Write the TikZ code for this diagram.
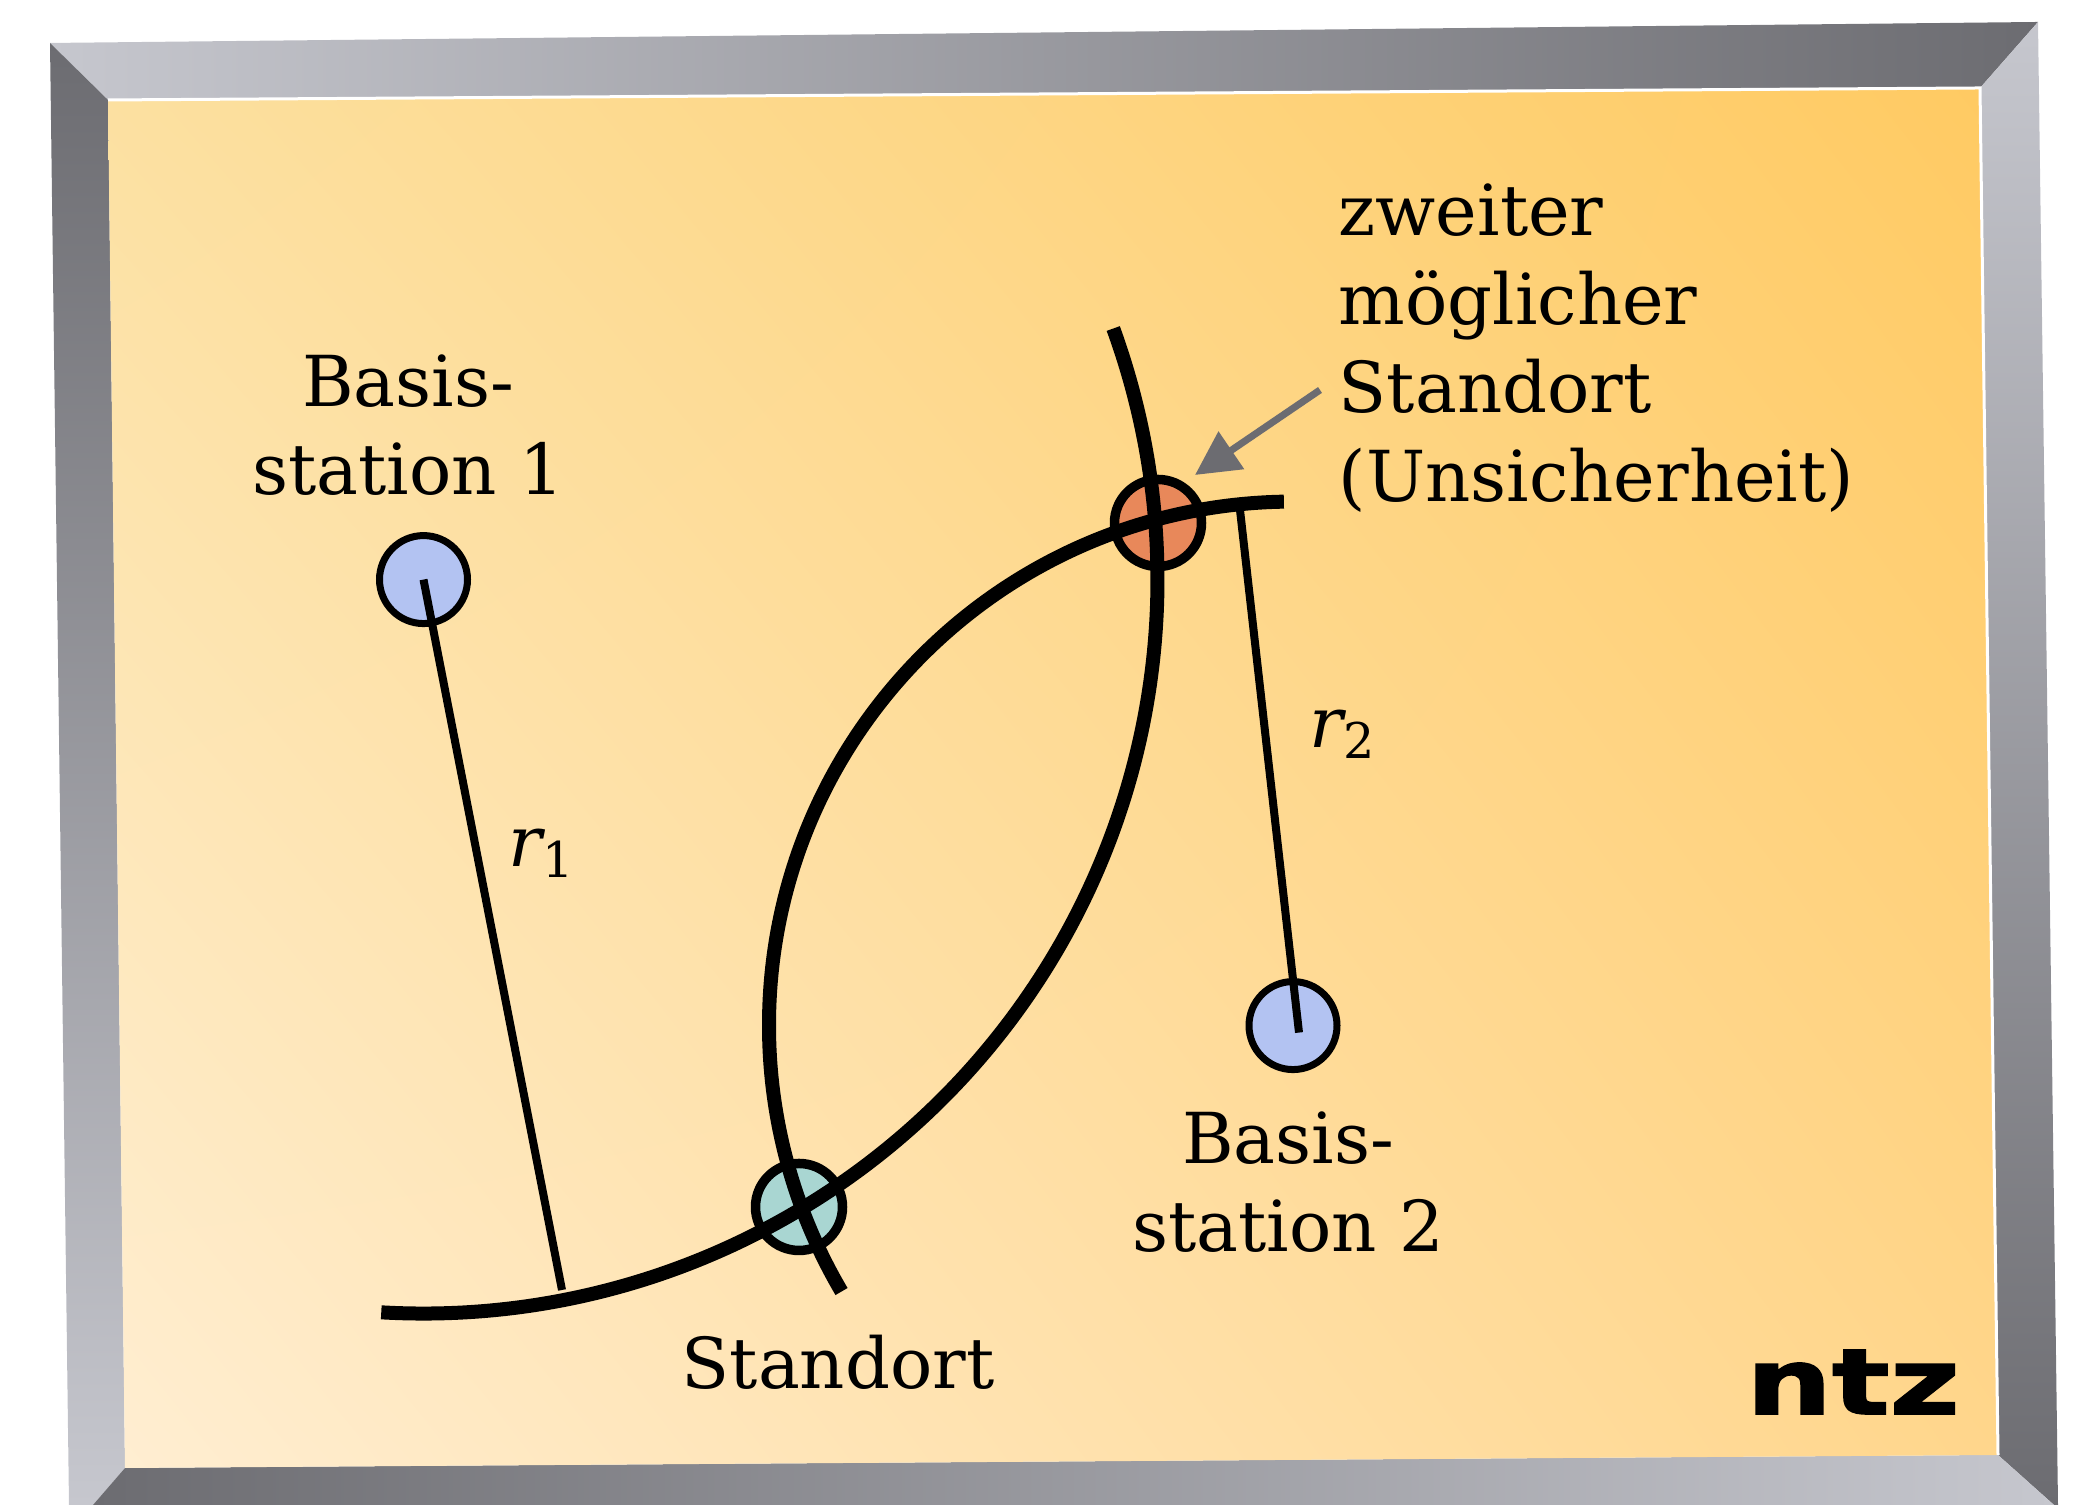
\documentclass[tikz,border=0pt]{standalone}
\usepackage{fontspec}
\setmainfont{DejaVu Serif}
\newfontfamily\logofont[BoldFeatures={FakeBold=1.6}]{DejaVu Sans}
\usetikzlibrary{arrows.meta, calc, shadings}
\definecolor{framelight}{HTML}{C6C7CE}
\definecolor{framedark}{HTML}{6C6C71}
\definecolor{panelnw}{HTML}{FCE0A0}
\definecolor{panelne}{HTML}{FFCA62}
\definecolor{panelsw}{HTML}{FFEED2}
\definecolor{panelse}{HTML}{FFD68C}
\definecolor{stationblue}{HTML}{B3C3F2}
\definecolor{markred}{HTML}{E8885A}
\definecolor{markgreen}{HTML}{A9D6D2}
\tikzset{
	label text/.style={font=\fontsize{20}{25.2}\selectfont, inner sep=0pt, text=black},
	station/.style={circle, draw=black, line width=0.07cm, fill=stationblue, minimum size=0.88cm, inner sep=0pt},
	marker/.style={circle, draw=black, line width=0.095cm, minimum size=0.87cm, inner sep=0pt},
	orbit line/.style={line width=0.14cm, black},
	radius line/.style={line width=0.08cm, black},
}

\begin{document}
\begin{tikzpicture}
	\useasboundingbox (0,0) rectangle (20.75,15.05);
	% frame: four bevelled bands
	\shade[left color=framelight, right color=framedark] (0.50,14.62) -- (20.38,14.83) -- (19.80,14.17) -- (1.08,14.05) -- cycle;
	\shade[top color=framedark, bottom color=framelight] (0.50,14.62) -- (1.08,14.05) -- (1.25,0.37) -- (0.93,0) -- (0.69,0) -- cycle;
	\shade[top color=framelight, bottom color=framedark] (20.38,14.83) -- (19.80,14.17) -- (19.98,0.50) -- (20.54,0) -- (20.58,0) -- cycle;
	\shade[left color=framedark, right color=framelight] (0.93,0) -- (1.25,0.37) -- (19.98,0.50) -- (20.54,0) -- cycle;
	% panel
	\shade[upper left=panelnw, upper right=panelne, lower left=panelsw, lower right=panelse]
		(1.08,14.05) -- (19.80,14.17) -- (19.98,0.50) -- (1.25,0.37) -- cycle;
	\draw[white, line width=0.03cm] (1.08,14.05) -- (19.80,14.17) -- (19.98,0.50);
	% stations and the two possible positions
	\node[station] (stationa) at (4.235,9.254) {};
	\node[station] (stationb) at (12.93,4.794) {};
	\node[marker, fill=markred] (second) at (11.58,9.82) {};
	\node[marker, fill=markgreen] (place) at (7.99,2.98) {};
	% arcs round the stations
	\draw[orbit line] ($(stationa.center)+(266.7:7.34)$) arc[start angle=266.7, end angle=380, radius=7.34];
	\draw[orbit line] ($(stationb.center)+(91:5.24)$) arc[start angle=91, end angle=210.5, radius=5.24];
	% radii
	\coordinate (foota) at (5.62,2.15);
	\coordinate (footb) at (12.40,9.95);
	\draw[radius line] (stationa.center) -- (foota);
	\draw[radius line] ($(stationb.center)+(0.06,-0.07)$) -- (footb);
	% pointer
	\coordinate (pointerstart) at (13.20,11.15);
	\coordinate (pointerend) at (11.95,10.30);
	\draw[-{Triangle[length=0.44cm, width=0.44cm]}, line width=0.07cm, framedark] (pointerstart) -- (pointerend);
	% labels
	\node[label text, align=center] (labela) at (4.08,10.80) {Basis-\\station 1};
	\node[label text, align=center] (labelb) at (12.88,3.23) {Basis-\\station 2};
	\node[label text, align=left, anchor=west] (labelc) at (13.38,11.57) {zweiter\\möglicher\\Standort\\(Unsicherheit)};
	\node[label text] (labeld) at (8.38,1.43) {Standort};
	\node[label text] (labele) at (5.42,6.52) {{\itshape r}\textsubscript{1}};
	\node[label text] (labelf) at (13.43,7.71) {{\itshape r}\textsubscript{2}};
	\node[inner sep=0pt, font=\logofont\bfseries\fontsize{26}{26}\selectfont, xscale=1.32] (logo) at (18.53,1.23) {ntz};
\end{tikzpicture}
\end{document}
